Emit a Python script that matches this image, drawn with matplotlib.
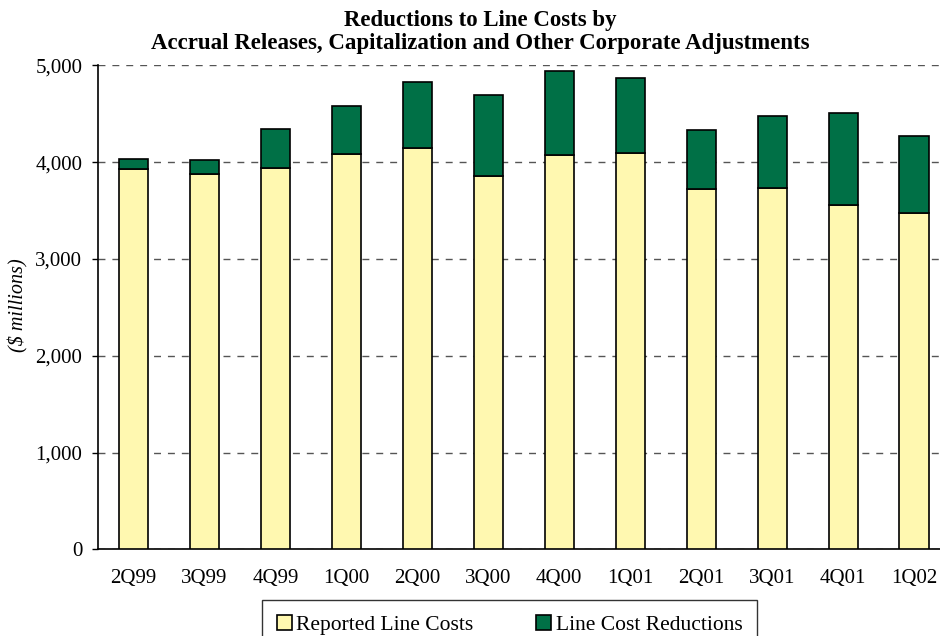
import matplotlib
matplotlib.use('Agg')
import matplotlib.pyplot as plt
import numpy as np

plt.rcParams['font.family'] = ['Liberation Serif', 'DejaVu Serif']

# Data ($ millions)
quarters = ['2Q99', '3Q99', '4Q99', '1Q00', '2Q00', '3Q00',
            '4Q00', '1Q01', '2Q01', '3Q01', '4Q01', '1Q02']
reported = [3930, 3882, 3944, 4085, 4144, 3858,
            4078, 4099, 3723, 3737, 3562, 3472]
totals = [4034, 4023, 4344, 4581, 4830, 4698,
          4943, 4874, 4330, 4481, 4509, 4271]
reductions = [t - r for t, r in zip(totals, reported)]
yticks = [0, 1000, 2000, 3000, 4000, 5000]

yellow = '#FFF8B0'
green = '#007046'

fig = plt.figure(figsize=(9.4, 6.36), dpi=100)
ax = fig.add_axes([98 / 940, 1 - 549.3 / 636, 851.5 / 940, 483.8 / 636])

x = np.arange(len(quarters))
ax.bar(x, reported, width=0.41, color=yellow, edgecolor='black', linewidth=1.2,
       label='Reported Line Costs', zorder=3)
ax.bar(x, reductions, width=0.41, bottom=reported, color=green, edgecolor='black',
       linewidth=1.2, label='Line Cost Reductions', zorder=3)

ax.set_xlim(-0.5, len(quarters) - 0.5)
ax.set_ylim(0, 5000)
ax.set_yticks(yticks)
ax.set_yticklabels(['{:,}'.format(v) for v in yticks])
ax.set_xticks(x)
ax.set_xticklabels(quarters)

ax.yaxis.grid(True, linestyle=(0, (5, 5)), color='#555555', linewidth=1.0, zorder=0)
ax.spines['right'].set_visible(False)
ax.spines['top'].set_visible(False)
ax.spines['left'].set_linewidth(1.2)
ax.spines['bottom'].set_linewidth(1.2)
ax.tick_params(axis='y', length=4.3, width=1, pad=7, labelsize=15)
ax.tick_params(axis='x', length=0, pad=14, labelsize=15)

fig.text(18 / 940, 1 - 305 / 636, '($ millions)', rotation=90, style='italic',
         fontsize=14.5, ha='center', va='center')

fig.text(480 / 940, 1 - 32 / 636,
         'Reductions to Line Costs by\nAccrual Releases, Capitalization and Other Corporate Adjustments',
         fontsize=16.5, fontweight='bold', ha='center', va='center', linespacing=1.15)

leg = fig.legend(loc='upper left', bbox_to_anchor=(262 / 940, 1 - 600 / 636), ncol=2,
                 frameon=True, fancybox=False, fontsize=15.5, handlelength=0.7,
                 handleheight=0.7, handletextpad=0.2, columnspacing=2.9,
                 borderpad=0.7, borderaxespad=0)
leg.get_frame().set_edgecolor('black')
leg.get_frame().set_linewidth(1.0)

fig.savefig('out.png', dpi=100)
